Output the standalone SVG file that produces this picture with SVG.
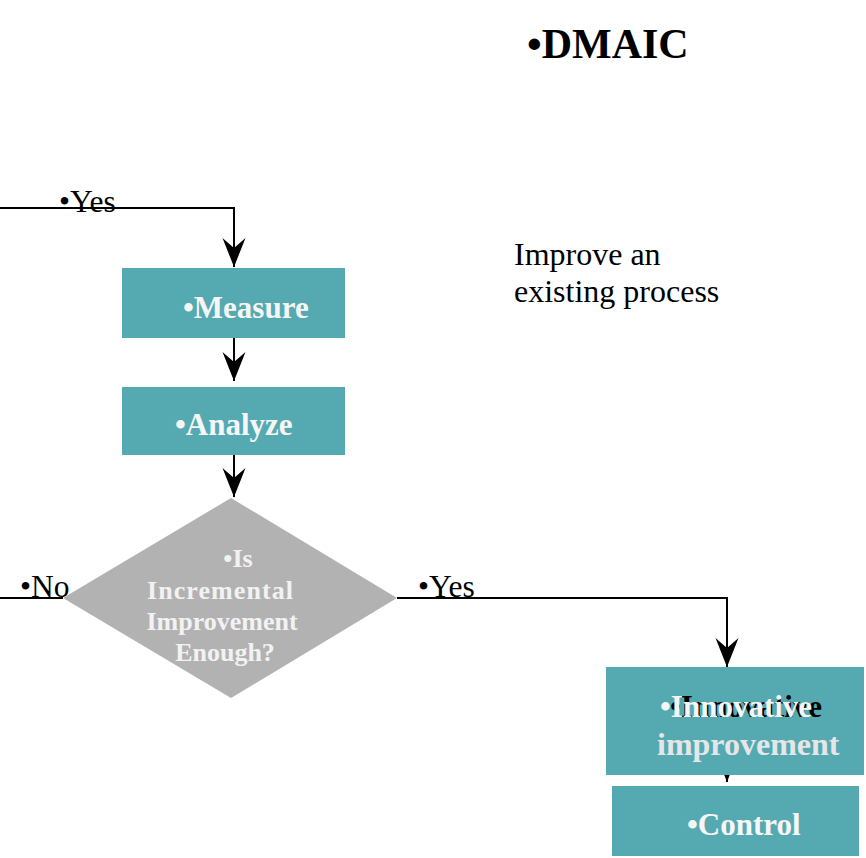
<svg xmlns="http://www.w3.org/2000/svg" width="866" height="858" viewBox="0 0 866 858">
  <style>
    .box { fill: #55aab2; }
    .dia { fill: #b2b2b2; }
    .wire { fill: none; stroke: #000; stroke-width: 2; }
    .lbl { font-family: "Liberation Serif", "Times New Roman", serif; font-size: 31.5px; fill: #000; }
    .btxt { font-family: "Liberation Serif", "Times New Roman", serif; font-size: 31px; font-weight: bold; fill: #f6f6f6; }
    .dtxt { font-family: "Liberation Serif", "Times New Roman", serif; font-size: 26px; font-weight: bold; fill: #f2f2f2; text-anchor: middle; }
    .plain { font-family: "Liberation Serif", "Times New Roman", serif; font-size: 32px; fill: #000; }
    .title { font-family: "Liberation Serif", "Times New Roman", serif; font-size: 42px; font-weight: bold; fill: #000; }
  </style>
  <defs>
    <marker id="arr" markerUnits="userSpaceOnUse" markerWidth="32" markerHeight="26" viewBox="-30 -13 32 26" refX="0" refY="0" orient="auto">
      <path d="M0,0 L-29,-11.5 L-19,0 L-29,11.5 Z" fill="#000"/>
    </marker>
  </defs>
  <rect width="866" height="858" fill="#fff"/>

  <g id="title">
    <text class="title" x="527" y="58">•DMAIC</text>
  </g>
  <g id="note">
    <text class="plain" x="514" y="265">Improve an</text>
    <text class="plain" x="514" y="302">existing process</text>
  </g>

  <g id="connectors">
    <path class="wire" d="M0,208 H234 V267" marker-end="url(#arr)"/>
    <path class="wire" d="M234,338 V381" marker-end="url(#arr)"/>
    <path class="wire" d="M234,455 V497" marker-end="url(#arr)"/>
    <path class="wire" d="M397,598 H727 V667" marker-end="url(#arr)"/>
    <path class="wire" d="M63,598 H0"/>
    <path class="wire" d="M727,740 V782" marker-end="url(#arr)"/>
    <text class="lbl" x="59" y="212">•Yes</text>
    <text class="lbl" x="418" y="597">•Yes</text>
    <text class="lbl" x="20" y="597">•No</text>
  </g>

  <g id="measure">
    <rect class="box" x="122" y="268" width="223" height="70"/>
    <text class="btxt" x="183" y="318">•Measure</text>
  </g>
  <g id="analyze">
    <rect class="box" x="122" y="387" width="223" height="68"/>
    <text class="btxt" x="175" y="435">•Analyze</text>
  </g>
  <g id="decision">
    <polygon class="dia" points="231,498 397,598 231,698 63,598"/>
    <text class="dtxt" x="238" y="567">•Is</text>
    <text class="dtxt" x="220" y="599" textLength="146">Incremental</text>
    <text class="dtxt" x="222" y="630">Improvement</text>
    <text class="dtxt" x="225" y="661">Enough?</text>
  </g>
  <g id="innovative">
    <rect class="box" x="606" y="667" width="258" height="108"/>
    <text class="btxt" x="670" y="717" style="fill:#000">•Innovative</text>
    <text class="btxt" x="660" y="717">•Innovative</text>
    <text class="btxt" x="657" y="755" style="fill:#e6e6e6;font-size:32px">improvement</text>
  </g>
  <g id="control">
    <rect class="box" x="612" y="786" width="247" height="70"/>
    <text class="btxt" x="687" y="835">•Control</text>
  </g>
</svg>
